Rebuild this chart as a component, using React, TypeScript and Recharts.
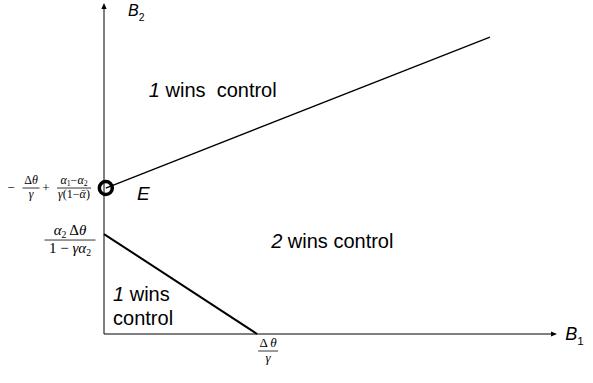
import React from 'react'
import { ComposedChart, Line, Scatter, XAxis, YAxis, ReferenceLine, ReferenceDot } from 'recharts'

// both axes run 0..100 (B1 to the arrow tip, B2 to the arrow tip)
const upperBoundary = [
  { b1: 0.4, b2: 44.1 },
  { b1: 85.2, b2: 89.7 },
]
const lowerBoundary = [
  { b1: 0, b2: 30.2 },
  { b1: 33.8, b2: 0 },
]
const equilibrium = [{ b1: 0.4, b2: 44.1 }]

const xTicks = [33.8]
const yTicks = [30.2, 44.1]

const regionLabels = [
  { b1: 9.9, b2: 71.6, lead: '1', rest: ' wins\u00a0 control', line2: '' },
  { b1: 36.9, b2: 26.0, lead: '2', rest: ' wins control', line2: '' },
  { b1: 2.0, b2: 10.0, lead: '1', rest: ' wins', line2: 'control' },
]
const axisTitles = [
  { b1: 5.3, b2: 96.1, name: 'B', sub: '2', size: 16 },
  { b1: 101.8, b2: -1.8, name: 'B', sub: '1', size: 18 },
]
const pointLabels = [{ b1: 7.3, b2: 40.5, text: 'E' }]

const SANS = "'Liberation Sans', Arial, sans-serif"
const SERIF = "'Liberation Serif', 'Times New Roman', serif"

const ArrowAxis = (props: any) => {
  const { x1, y1, x2, y2 } = props
  const ang = Math.atan2(y2 - y1, x2 - x1)
  const len = 6
  const half = 2.6
  const bx = x2 - len * Math.cos(ang)
  const by = y2 - len * Math.sin(ang)
  const px = -Math.sin(ang) * half
  const py = Math.cos(ang) * half
  return (
    <g>
      <line x1={x1} y1={y1} x2={bx} y2={by} stroke="#000" strokeWidth={1} />
      <polygon points={`${x2},${y2} ${bx + px},${by + py} ${bx - px},${by - py}`} fill="#000" />
    </g>
  )
}

const Frac = ({ cx, barY, w, size, num, den }: any) => (
  <g>
    <text x={cx} y={barY - size * 0.33} textAnchor="middle" fontFamily={SERIF} fontSize={size} fill="#000">{num}</text>
    <line x1={cx - w / 2} x2={cx + w / 2} y1={barY} y2={barY} stroke="#000" strokeWidth={0.8} />
    <text x={cx} y={barY + size * 0.85} textAnchor="middle" fontFamily={SERIF} fontSize={size} fill="#000">{den}</text>
  </g>
)

const it = (s: string) => <tspan fontStyle="italic">{s}</tspan>
const sub = (s: string, size: number) => <tspan fontSize={size * 0.65} dy={size * 0.2}>{s}</tspan>
const back = (s: string, size: number) => <tspan dy={-size * 0.2}>{s}</tspan>

const YTick = (props: any) => {
  const { x, y, payload } = props
  if (payload.value === yTicks[1]) {
    const s = 12
    return (
      <g>
        <text x={x - 85} y={y + 4} textAnchor="middle" fontFamily={SERIF} fontSize={13} fill="#000">−</text>
        <Frac cx={x - 65} barY={y} w={17} size={s}
          num={<>Δ{it('θ')}</>}
          den={it('γ')} />
        <text x={x - 50} y={y + 4} textAnchor="middle" fontFamily={SERIF} fontSize={13} fill="#000">+</text>
        <Frac cx={x - 22} barY={y} w={34} size={s}
          num={<>{it('α')}{sub('1', s)}{back('−', s)}{it('α')}{sub('2', s)}</>}
          den={<>{it('γ')}(1−{it('ᾱ')})</>} />
      </g>
    )
  }
  const s = 15
  return (
    <Frac cx={x - 26} barY={y + 6} w={51} size={s}
      num={<>{it('α')}{sub('2', s)}{back(' Δ', s)}{it('θ')}</>}
      den={<>1 − {it('γα')}{sub('2', s)}</>} />
  )
}

const XTick = (props: any) => {
  const { x, y } = props
  return (
    <Frac cx={x + 11} barY={y + 9} w={20} size={13}
      num={<>Δ {it('θ')}</>}
      den={it('γ')} />
  )
}

const RegionText = (item: any) => (props: any) => (
  <text x={props.cx} y={props.cy} fontFamily={SANS} fontSize={20} fill="#000">
    <tspan fontStyle="italic">{item.lead}</tspan>
    <tspan>{item.rest}</tspan>
    {item.line2 ? <tspan x={props.cx} dy={24}>{item.line2}</tspan> : null}
  </text>
)

const AxisTitle = (item: any) => (props: any) => (
  <text x={props.cx} y={props.cy} fontFamily={SANS} fontSize={item.size} fill="#000">
    <tspan fontStyle="italic">{item.name}</tspan>
    <tspan fontSize={item.size * 0.65} dy={5}>{item.sub}</tspan>
  </text>
)

const PointText = (item: any) => (props: any) => (
  <text x={props.cx} y={props.cy} fontFamily={SANS} fontSize={19} fontStyle="italic" fill="#000">
    {item.text}
  </text>
)

const EquilibriumMark = (props: any) => (
  <circle cx={props.cx} cy={props.cy} r={6.5} fill="none" stroke="#000" strokeWidth={3.5} />
)

export default function App() {
  return (
    <div style={{ position: 'absolute', left: 0, top: 0, background: '#fff' }}>
      <ComposedChart width={593} height={383} margin={{ top: 3, right: 36, bottom: 0, left: 0 }}>
        <XAxis type="number" dataKey="b1" domain={[0, 100]} ticks={xTicks} interval={0}
          height={49} axisLine={false} tickLine={false} tickSize={6} tickMargin={2} tick={<XTick />} />
        <YAxis type="number" dataKey="b2" domain={[0, 100]} ticks={yTicks} interval={0}
          width={104} axisLine={false} tickLine={false} tickSize={6} tickMargin={2} tick={<YTick />} />

        <ReferenceLine segment={[{ x: 0, y: 0 }, { x: 100, y: 0 }]} shape={ArrowAxis} />
        <ReferenceLine segment={[{ x: 0, y: 0 }, { x: 0, y: 100 }]} shape={ArrowAxis} />

        <Line data={upperBoundary} dataKey="b2" type="linear" stroke="#000" strokeWidth={1.3}
          dot={false} activeDot={false} isAnimationActive={false} />
        <Line data={lowerBoundary} dataKey="b2" type="linear" stroke="#000" strokeWidth={2}
          dot={false} activeDot={false} isAnimationActive={false} />
        <Scatter data={equilibrium} dataKey="b2" shape={EquilibriumMark} isAnimationActive={false} />

        {regionLabels.map((r, i) => (
          <ReferenceDot key={`r${i}`} x={r.b1} y={r.b2} r={0} ifOverflow="visible" shape={RegionText(r)} />
        ))}
        {axisTitles.map((a, i) => (
          <ReferenceDot key={`a${i}`} x={a.b1} y={a.b2} r={0} ifOverflow="visible" shape={AxisTitle(a)} />
        ))}
        {pointLabels.map((p, i) => (
          <ReferenceDot key={`p${i}`} x={p.b1} y={p.b2} r={0} ifOverflow="visible" shape={PointText(p)} />
        ))}
      </ComposedChart>
    </div>
  )
}
